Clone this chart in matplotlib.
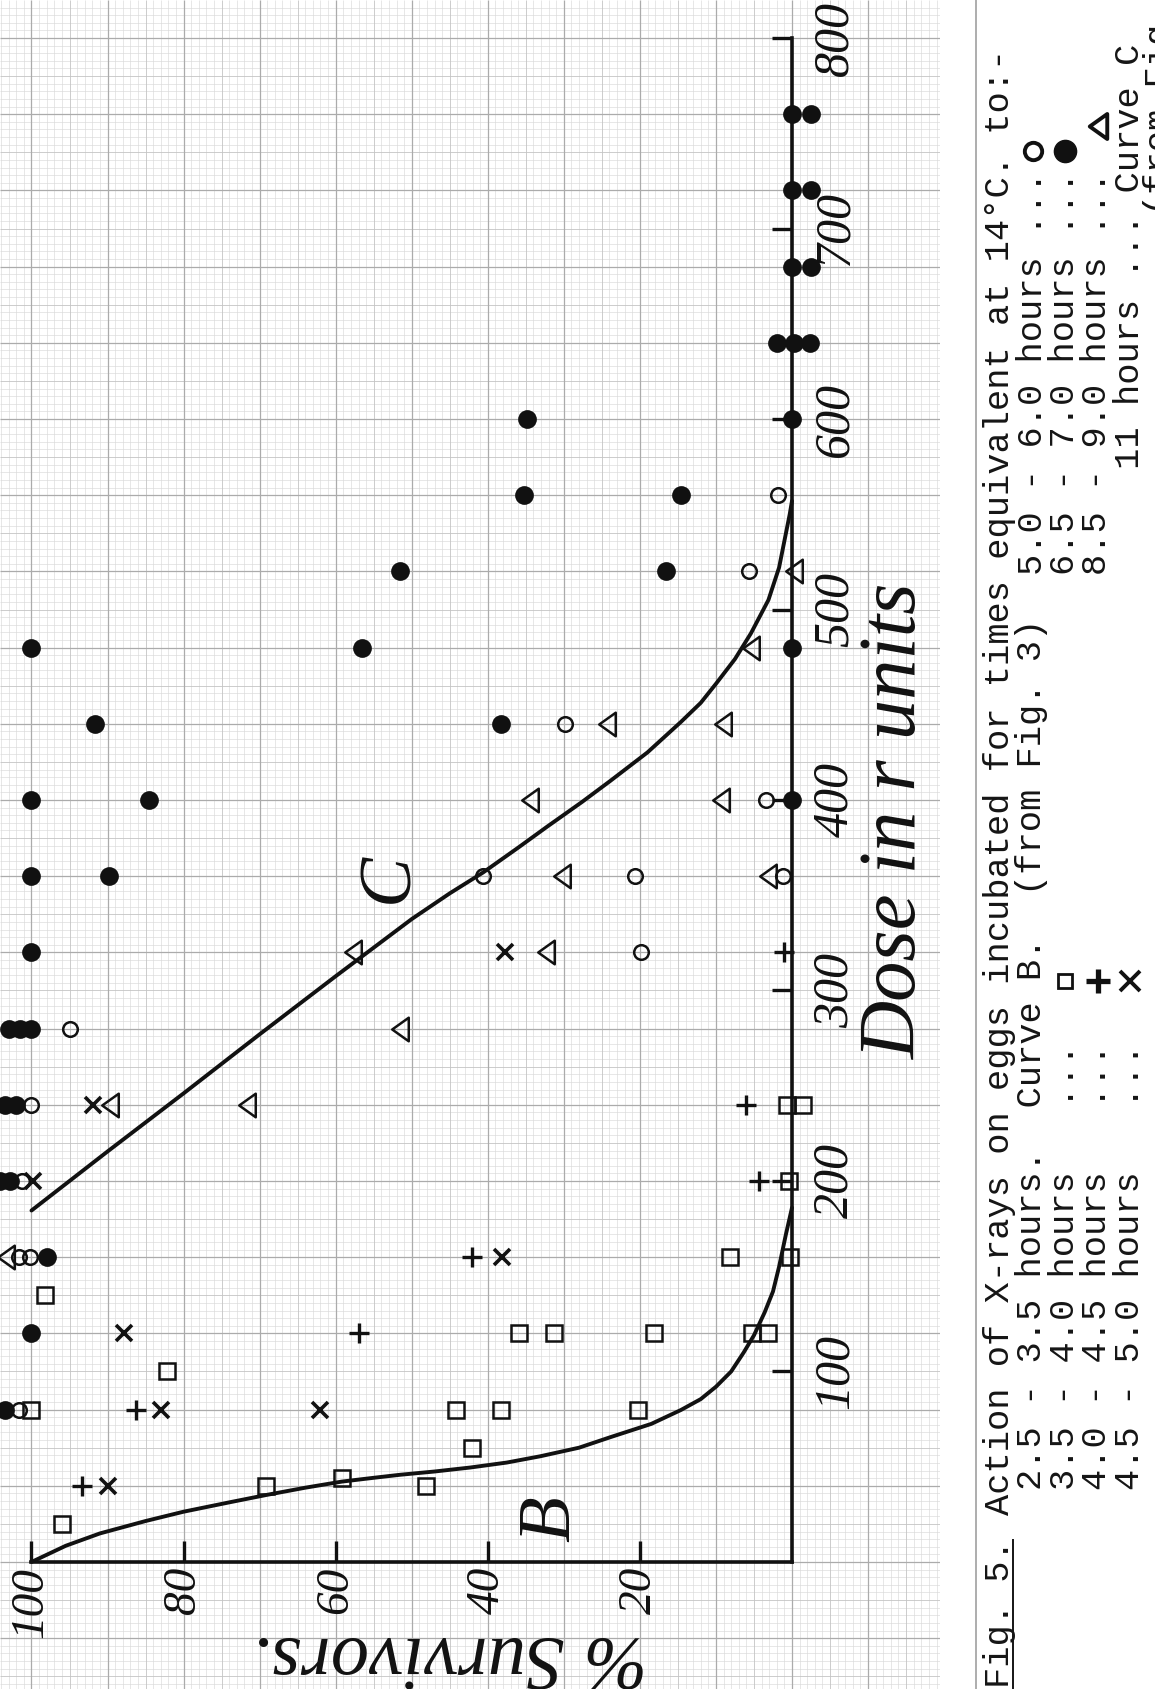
import numpy as np
import matplotlib
matplotlib.use('Agg')
import matplotlib.pyplot as plt
from matplotlib.path import Path
from matplotlib.lines import Line2D

W, H, DPI = 1155, 1689, 100

# ---- values: % survivors, dose in r ----
circle_surv = [94.9, 100, 101.3, 101.6, 100.2, 101.7, 40.6, 20.7, 1.2, 19.8, 29.9, 3.4, 5.7, 1.8]
circle_dose = [280, 240, 200, 160, 160, 80, 360, 360, 360, 320, 440, 400, 520, 560]

dot_surv = [103.5, 100, 98, 102.8, 104.2, 102, 103.5, 100, 101.5, 103, 100, 100, 100, 100,
            84.6, 89.8, 91.6, 38.3, 56.6, 51.5, 16.6, 35.3, 14.6, 34.8,
            0, 0, 0, 2.0, -0.3, -2.4, 0, -2.5, 0, -2.5, 0, -2.5]
dot_dose = [80, 120, 160, 200, 200, 240, 240, 280, 280, 280, 320, 360, 400, 480,
            400, 360, 440, 440, 480, 520, 520, 560, 560, 600,
            400, 480, 600, 640, 640, 640, 680, 680, 720, 720, 760, 760]

tri_surv = [103.3, 89.7, 71.7, 51.5, 57.7, 32.3, 30.3, 3.1, 34.5, 9.3, 24.3, 9.1, 5.4, -0.3]
tri_dose = [160, 240, 240, 280, 320, 320, 360, 360, 400, 400, 440, 440, 480, 520]

sq_surv = [96, 69.2, 48.1, 59.2, 42.1, 100, 44.2, 38.2, 20.2, 82.2, 35.9, 31.3, 18.1, 5.2, 3.2,
           98.2, 8.2, 0.3, 0.4, 0.6, -1.5]
sq_dose = [20, 40, 40, 44, 60, 80, 80, 80, 80, 100, 120, 120, 120, 120, 120,
           140, 160, 160, 200, 240, 240]

plus_surv = [93.3, 86.2, 57, 42.1, 4.3, 6.1, 1.0]
plus_dose = [40, 80, 120, 160, 200, 240, 320]

cross_surv = [90, 83, 62.1, 87.9, 38.1, 99.8, 91.9, 37.8]
cross_dose = [40, 80, 80, 120, 160, 200, 240, 320]

curve_b_surv = [100, 95.5, 91, 85, 80, 74, 69.1, 64, 59.2, 55, 51.5, 47, 42.3, 37.5, 33.1,
                28, 23.9, 18.5, 14.6, 12, 10, 8, 6.35, 5, 3.6, 2.5, 1.7, 0.8, 0]
curve_b_dose = [0, 8.5, 15, 21.5, 26.4, 31.3, 35.2, 39, 42.2, 44.2, 45.8, 47.5, 49.6, 52.2, 55.5,
                60, 65.5, 72.5, 79.8, 85.5, 92, 100, 110, 119, 131, 142, 155, 172, 186]

curve_c_surv = [100, 90, 80, 70, 60, 50, 45, 40.6, 36, 32.2, 27.6, 23.9, 19, 14.6, 12, 10,
                7.5, 5.4, 3.1, 1.7, 0.8, 0.3, 0]
curve_c_dose = [184.5, 215.5, 246, 277, 307.5, 337.5, 351, 362, 375, 386, 399, 410, 425, 441,
                451, 461, 474, 487.5, 505, 522, 540, 550, 557]

surv_ticks = [100, 80, 60, 40, 20]
dose_ticks = [100, 200, 300, 400, 500, 600, 700, 800]

fig = plt.figure(figsize=(W / DPI, H / DPI), dpi=DPI)
fig.patch.set_facecolor('white')

# graph paper area
ax = fig.add_axes([0, 0, 940 / W, 1])
ax.set_xlim(104.14, -19.46)
ax.set_ylim(-66.67, 819.95)
ax.axis('off')

s_all = np.arange(-19, 105)
d_all = np.arange(-64, 820, 4)
ylo, yhi = ax.get_ylim()
xlo, xhi = ax.get_xlim()
ax.vlines(s_all[s_all % 5 != 0], ylo, yhi, colors='#d9d9d9', lw=0.45, zorder=0)
ax.hlines(d_all[d_all % 20 != 0], xhi, xlo, colors='#d9d9d9', lw=0.45, zorder=0)
ax.vlines(s_all[(s_all % 5 == 0) & (s_all % 10 != 0)], ylo, yhi, colors='#c4c4c4', lw=0.6, zorder=0)
ax.hlines(d_all[(d_all % 20 == 0) & (d_all % 40 != 0)], xhi, xlo, colors='#c4c4c4', lw=0.6, zorder=0)
ax.vlines(s_all[s_all % 10 == 0], ylo, yhi, colors='#ababab', lw=0.9, zorder=0)
ax.hlines(d_all[d_all % 40 == 0], xhi, xlo, colors='#ababab', lw=0.9, zorder=0)

# axes drawn by hand on the paper
ax.plot([100, 0], [0, 0], color='#111111', lw=2.6, solid_capstyle='projecting', zorder=3)
ax.plot([0, 0], [0, 800], color='#111111', lw=2.6, solid_capstyle='projecting', zorder=3)
ax.vlines(surv_ticks, 0, 11, colors='#111111', lw=2.4, zorder=3)
ax.hlines(dose_ticks, 0, 2.6, colors='#111111', lw=2.4, zorder=3)

num_font = dict(family=['Liberation Serif', 'DejaVu Serif'], style='italic', color='#111111')
for s in surv_ticks:
    ax.text(s, -2.6, str(s), rotation=90, rotation_mode='anchor', ha='right', va='center',
            fontsize=34, **num_font)
for d in dose_ticks:
    ax.text(-2.6, d, str(d), rotation=90, rotation_mode='anchor', ha='center', va='top',
            fontsize=36, **num_font)

ax.text(-13.7, 389, 'Dose in r units', rotation=90, rotation_mode='anchor', ha='center',
        va='center', fontsize=58, **num_font)
ax.text(45, -39.5, '% Survivors.', rotation=180, rotation_mode='anchor', ha='center',
        va='baseline', fontsize=55, **num_font)
ax.text(31.6, 22.6, 'B', rotation=90, rotation_mode='anchor', ha='center', va='center',
        fontsize=54, **num_font)
ax.text(52.9, 359, 'C', rotation=90, rotation_mode='anchor', ha='center', va='center',
        fontsize=54, **num_font)

# curves
ax.plot(curve_b_surv, curve_b_dose, color='#111111', lw=2.8, zorder=3, solid_capstyle='round')
ax.plot(curve_c_surv, curve_c_dose, color='#111111', lw=2.8, zorder=3, solid_capstyle='round')

tri = Path([(-0.7, 0), (0.7, 1), (0.7, -1), (-0.7, 0)],
           [Path.MOVETO, Path.LINETO, Path.LINETO, Path.CLOSEPOLY])
kw = dict(ls='none', clip_on=False, zorder=4)
ax.plot(dot_surv, dot_dose, marker='o', ms=13.5, color='#111111', mew=0, **kw)
ax.plot(circle_surv, circle_dose, marker='o', ms=10.5, mfc='none', mec='#111111', mew=1.8, **kw)
ax.plot(sq_surv, sq_dose, marker='s', ms=12, mfc='none', mec='#111111', mew=1.8, **kw)
ax.plot(tri_surv, tri_dose, marker=tri, ms=17, mfc='none', mec='#111111', mew=1.8, **kw)
ax.plot(plus_surv, plus_dose, marker='+', ms=14, mec='#111111', mew=2.4, **kw)
ax.plot(cross_surv, cross_dose, marker='x', ms=11.5, mec='#111111', mew=2.6, **kw)

# ---- typed caption, rotated like the page ----
fig.add_artist(Line2D([976 / W, 976 / W], [0, 1], color='#a0a0a0', lw=1.2))

p = 21.2                       # typewriter pitch in px
cap_fs = p / 0.6 * 72 / DPI
col_x = [1000, 1032.5, 1065, 1097.5, 1130, 1160]


def cap(col, y, s):
    fig.text((col_x[col] + 9) / W, 1 - y / H, s, rotation=90, rotation_mode='anchor',
             ha='left', va='baseline', fontsize=cap_fs, color='#151515',
             family=['Liberation Mono', 'DejaVu Sans Mono'])


cap(0, 1688, 'Fig. 5.')
fig.add_artist(Line2D([(col_x[0] + 13) / W] * 2, [1 - 1688 / H, 1 - 1540 / H],
                      color='#151515', lw=1.4))
cap(0, 1515, 'Action of X-rays on eggs incubated for times equivalent at 14°C. to:-')

left_y = 1490
cap(1, left_y, '2.5 - 3.5 hours.  Curve B.  (from Fig. 3)')
cap(2, left_y, '3.5 - 4.0 hours   ...')
cap(3, left_y, '4.0 - 4.5 hours   ...')
cap(4, left_y, '4.5 - 5.0 hours   ...')

right_y = 575
cap(1, right_y, '5.0 - 6.0 hours ...')
cap(2, right_y, '6.5 - 7.0 hours ...')
cap(3, right_y, '8.5 - 9.0 hours ...')
cap(4, right_y, '     11 hours ... Curve C')
cap(5, 215, '(from Fig. 3)')


def sym(col, y, **style):
    fig.add_artist(Line2D([col_x[col] / W], [1 - y / H], ls='none', transform=fig.transFigure,
                          color='#111111', **style))


ys_left = left_y - 24 * p
ys_right = right_y - 20 * p
sym(2, ys_left, marker='s', ms=9.5, mfc='none', mew=2.0)
sym(3, ys_left, marker='+', ms=17, mew=3.8)
sym(4, ys_left, marker='x', ms=15, mew=2.8)
sym(1, ys_right, marker='o', ms=12.5, mfc='none', mew=2.8)
sym(2, ys_right, marker='o', ms=16)
sym(3, ys_right - 25, marker=tri, ms=18, mfc='none', mew=2.8)

fig.savefig('out.png', dpi=DPI)
